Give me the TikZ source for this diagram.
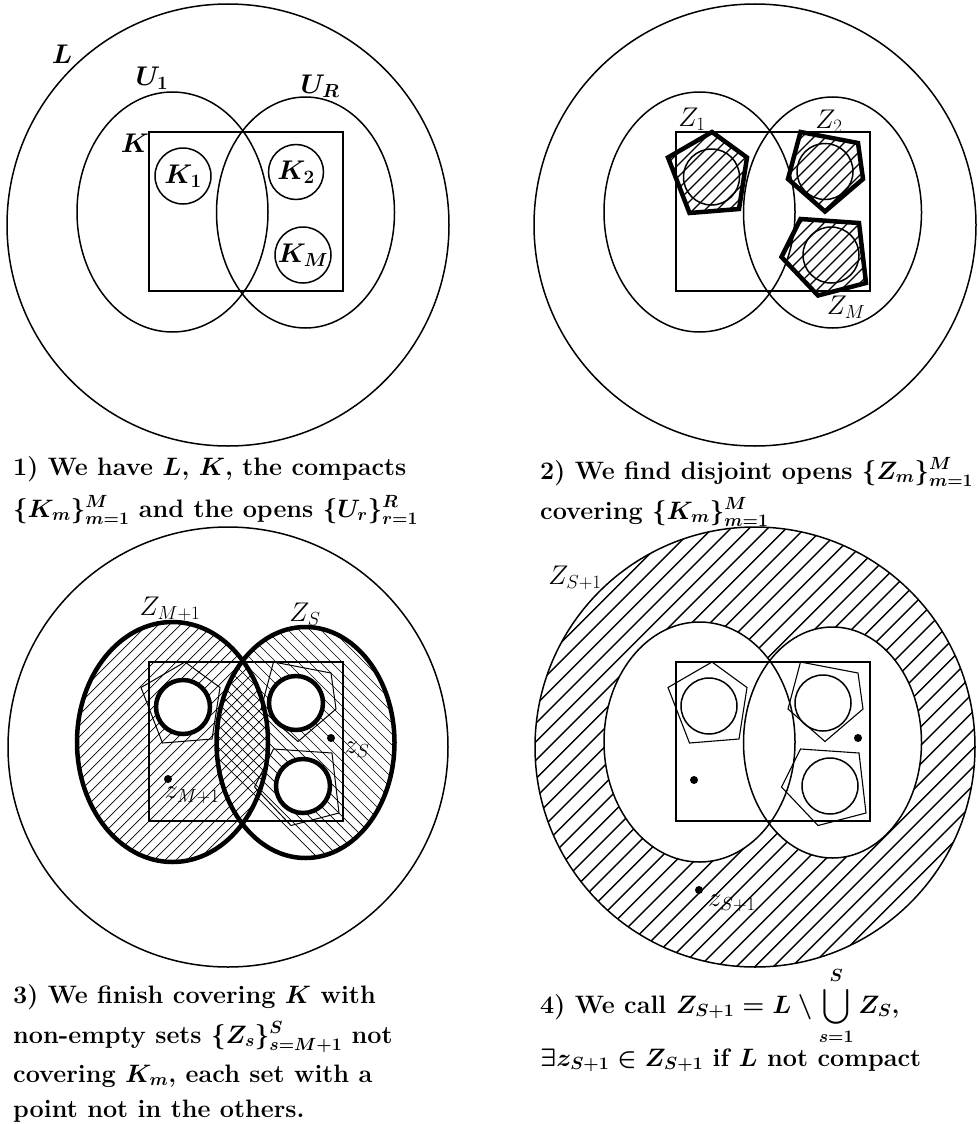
\RequirePackage{fix-cm}
\documentclass[tikz,border=0pt]{standalone}
\usepackage{amsmath}
\def\ellA{(172.5,212) ellipse [x radius=95.5, y radius=120]}
\def\ellB{(305.5,212.5) ellipse [x radius=89, y radius=115.5]}
\def\rectK{(149,132) rectangle (343,291)}
\def\pentA{(185,132) -- (220,157.5) -- (212,209) -- (162.5,213) -- (141,157.5) -- cycle}
\def\pentB{(273.5,132) -- (331,143) -- (336,179) -- (298,211.5) -- (261,179) -- cycle}
\def\pentC{(273.5,219) -- (332,223) -- (339,283) -- (291,295.5) -- (254.5,257) -- cycle}
\begin{document}
\begin{tikzpicture}[x=1pt,y=-1pt,
  base/.style={line width=1.5pt},
  heavy/.style={line width=4.5pt},
  hatchA/.style={line width=1.2pt},
  hatchB/.style={line width=0.7pt},
  hatchC/.style={line width=1.4pt},
  lbl/.style={inner sep=0pt, font=\fontsize{27}{32}\selectfont},
  blbl/.style={inner sep=0pt, font=\fontsize{27}{32}\selectfont\boldmath},
  captxt/.style={anchor=base west, inner sep=0pt, font=\fontsize{25.2}{30}\selectfont\bfseries\boldmath},
  dotnode/.style={circle, fill=black, inner sep=0pt, minimum size=8pt}]
\useasboundingbox (0,0) rectangle (979,1124);

% ---------- Panel 1 ----------
\draw[base] (228,225) circle [radius=221];
\draw[base] \ellA;
\draw[base] \ellB;
\draw[base] \rectK;
\draw[base] (183,176) circle [radius=28];
\draw[base] (296,172) circle [radius=27.5];
\draw[base] (303,255) circle [radius=28];
\node[blbl] (lL) at (62,54) {$L$};
\node[blbl] (lU1) at (152,78) {$U_1$};
\node[blbl] (lUR) at (320,86) {$U_R$};
\node[blbl] (lK) at (135,143) {$K$};
\node[blbl] (lK1) at (183,176) {$K_1$};
\node[blbl] (lK2) at (296,172) {$K_2$};
\node[blbl] (lKM) at (303,255) {$K_M$};

% ---------- Panel 2 ----------
\draw[base] (755,225) circle [radius=221];
\begin{scope}[shift={(527,0)}]
  \draw[base] \ellA;
  \draw[base] \ellB;
  \draw[base] \rectK;
  \begin{scope}
    \clip \pentA;
    \foreach \c in {280,292,...,520} \draw[hatchA] (\c-100,100) -- (\c-320,320);
  \end{scope}
  \begin{scope}
    \clip \pentB;
    \foreach \c in {280,292,...,520} \draw[hatchA] (\c-100,100) -- (\c-320,320);
  \end{scope}
  \begin{scope}
    \clip \pentC;
    \foreach \c in {280,292,...,680} \draw[hatchA] (\c-100,100) -- (\c-320,320);
  \end{scope}
  \draw[heavy] \pentA;
  \draw[heavy] \pentB;
  \draw[heavy] \pentC;
  \draw[base] (184.5,177) circle [radius=28];
  \draw[base] (298,171.5) circle [radius=28];
  \draw[base] (304,255) circle [radius=28];
\end{scope}
\node[lbl] (lZ1) at (692,119) {$Z_1$};
\node[lbl] (lZ2) at (829,121) {$Z_2$};
\node[lbl] (lZM) at (846,307) {$Z_M$};

% ---------- Panel 3 ----------
\draw[base] (228,747) circle [radius=220];
\begin{scope}[shift={(0,530)}]
  \begin{scope}
    \clip \ellA;
    \foreach \c in {220,231,...,560} \draw[hatchB] (\c-80,80) -- (\c-340,340);
  \end{scope}
  \begin{scope}
    \clip \ellB;
    \foreach \c in {-10,1,...,320} \draw[hatchB] (\c+80,80) -- (\c+340,340);
  \end{scope}
  \draw[line width=1pt] \pentA;
  \draw[line width=1pt] \pentB;
  \draw[line width=1pt] \pentC;
  \draw[line width=2pt] \rectK;
  \draw[heavy, fill=white] (183,177) circle [radius=27];
  \draw[heavy, fill=white] (296,173) circle [radius=27];
  \draw[heavy, fill=white] (303,256) circle [radius=27];
  \draw[heavy] \ellA;
  \draw[heavy] \ellB;
\end{scope}
\node[dotnode] (dS) at (331,738) {};
\node[dotnode] (dM) at (168,779) {};
\node[lbl] (lZM1) at (170,609) {$Z_{M+1}$};
\node[lbl] (lZS) at (305,614) {$Z_S$};
\node[lbl] (lzS) at (357,750) {$z_S$};
\node[lbl] (lzM1) at (192,795) {$z_{M+1}$};

% ---------- Panel 4 ----------
\begin{scope}
  \clip (755,747) circle [radius=220];
  \foreach \c in {1185,1203.5,...,1830} \draw[hatchC] (\c-515,515) -- (\c-980,980);
\end{scope}
\draw[base] (755,747) circle [radius=220];
\begin{scope}[shift={(527,530)}]
  \fill[white] \ellA;
  \fill[white] \ellB;
  \draw[base] \ellA;
  \draw[base] \ellB;
  \draw[line width=2.2pt] \rectK;
  \draw[line width=1.1pt] \pentA;
  \draw[line width=1.1pt] \pentB;
  \draw[line width=1.1pt] \pentC;
  \draw[base] (182,176) circle [radius=28];
  \draw[base] (296,173) circle [radius=28];
  \draw[base] (303,256) circle [radius=28];
\end{scope}
\node[dotnode] (d4a) at (858,738) {};
\node[dotnode] (d4b) at (694,780) {};
\node[dotnode] (d4c) at (699,890) {};
\node[lbl] (lZS1) at (575,578) {$Z_{S+1}$};
\node[lbl] (lzS1) at (732,903) {$z_{S+1}$};

% ---------- Captions ----------
\node[captxt] (c1a) at (13,475) {1) We have $L$, $K$, the compacts};
\node[captxt] (c1b) at (13,517) {$\{K_m\}_{m=1}^M$ and the opens $\{U_r\}_{r=1}^R$};
\node[captxt] (c2a) at (540,479) {2) We find disjoint opens $\{Z_m\}_{m=1}^M$};
\node[captxt] (c2b) at (540,519) {covering $\{K_m\}_{m=1}^M$};
\node[captxt] (c3a) at (13,1003) {3) We finish covering $K$ with};
\node[captxt] (c3b) at (13,1043) {non-empty sets $\{Z_s\}_{s=M+1}^S$ not};
\node[captxt] (c3c) at (13,1082) {covering $K_m$, each set with a};
\node[captxt] (c3d) at (13,1117) {point not in the others.};
\node[captxt] (c4a) at (540,1013) {4) We call $Z_{S+1} = L \setminus \displaystyle\bigcup_{s=1}^{S} Z_S$,};
\node[captxt] (c4b) at (540,1066) {$\exists z_{S+1} \in Z_{S+1}$ if $L$ not compact};
\end{tikzpicture}
\end{document}
